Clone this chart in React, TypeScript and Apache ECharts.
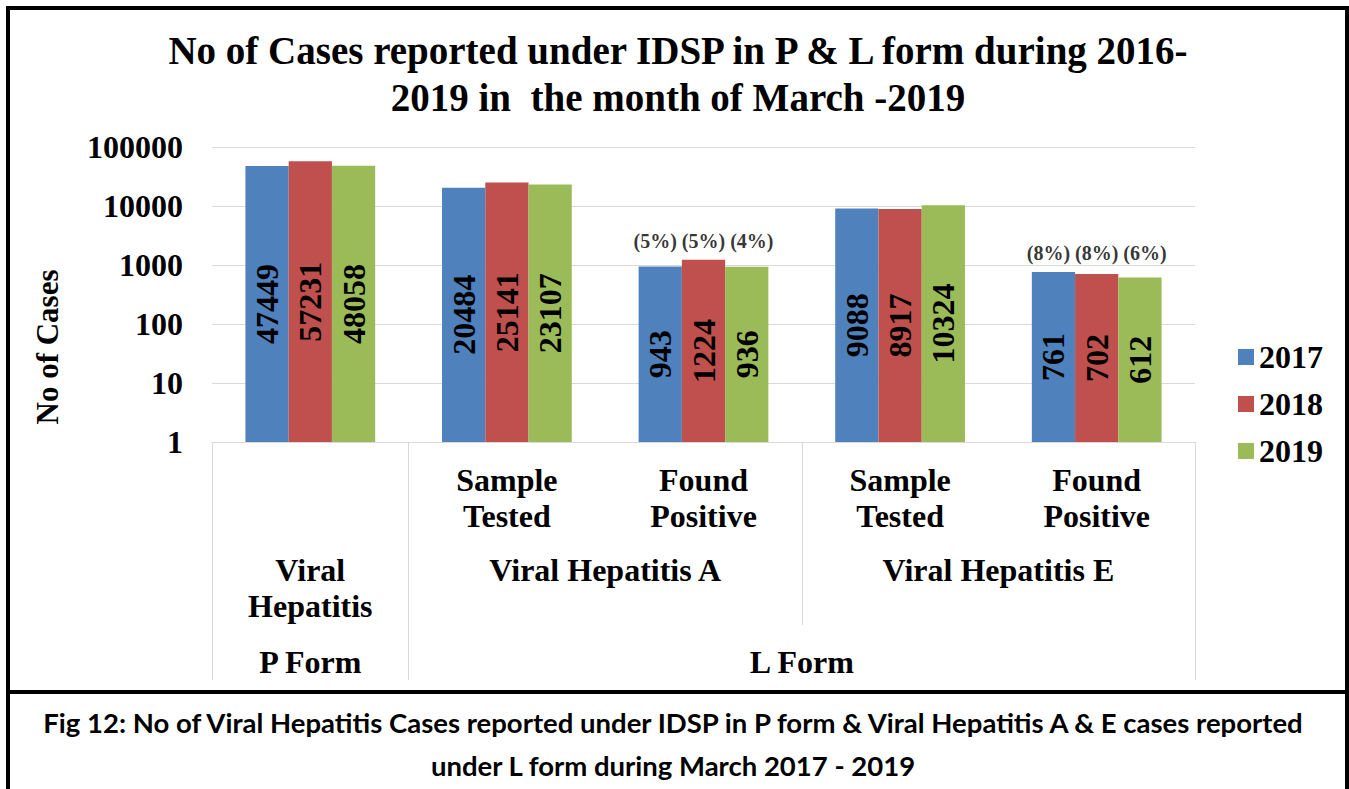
import React, { useEffect, useRef } from "react";
import * as echarts from "echarts";

const categories = [
  "Viral Hepatitis",
  "VHA Sample Tested",
  "VHA Found Positive",
  "VHE Sample Tested",
  "VHE Found Positive",
];
const subLabels = ["", "Sample\nTested", "Found\nPositive", "Sample\nTested", "Found\nPositive"];
const level2Labels = ["Viral\nHepatitis", "Viral Hepatitis A", "Viral Hepatitis E"];
const level2Spans = [1, 2, 2];
const level3Labels = ["P Form", "L Form"];
const level3Spans = [1, 4];

const seriesNames = ["2017", "2018", "2019"];
const values2017 = [47449, 20484, 943, 9088, 761];
const values2018 = [57231, 25141, 1224, 8917, 702];
const values2019 = [48058, 23107, 936, 10324, 612];
const pct2017 = ["", "", "5%", "", "8%"];
const pct2018 = ["", "", "5%", "", "8%"];
const pct2019 = ["", "", "4%", "", "6%"];

const yTicks = [1, 10, 100, 1000, 10000, 100000];

const colors = ["#4F81BD", "#C0504D", "#9BBB59"];
const SERIF = '"Liberation Serif", "Times New Roman", serif';

function spansToCenters(spans: number[]) {
  const out: number[] = [];
  let s = 0;
  spans.forEach((sp) => {
    out.push(s + sp / 2);
    s += sp;
  });
  return out;
}
function spansToBounds(spans: number[]) {
  const out: number[] = [0];
  let s = 0;
  spans.forEach((sp) => {
    s += sp;
    out.push(s);
  });
  return out;
}

export default function App() {
  const ref = useRef<HTMLDivElement>(null);
  useEffect(() => {
    if (!ref.current) return;
    const chart = echarts.init(ref.current, null, { renderer: "svg" });
    const n = categories.length;
    const l2Centers = spansToCenters(level2Spans);
    const l3Centers = spansToCenters(level3Spans);
    const l3Bounds = spansToBounds(level3Spans);
    const l2Bounds = spansToBounds(level2Spans).filter((b) => !l3Bounds.includes(b));

    const valueSets = [values2017, values2018, values2019];
    const pctSets = [pct2017, pct2018, pct2019];
    const pctData: any[] = [];
    for (let i = 0; i < n; i++) {
      if (pctSets[0][i]) {
        pctData.push({
          value: [categories[i], Math.max(values2017[i], values2018[i], values2019[i])],
          idx: i,
        });
      }
    }

    const labelFont = { fontFamily: SERIF, fontWeight: "bold" as const, fontSize: 32, color: "#000" };

    const valueAxisBase = (extra: any) => ({
      type: "value",
      min: 0,
      max: n,
      position: "bottom",
      axisLine: { show: false, onZero: false },
      splitLine: { show: false },
      ...extra,
    });

    const findIdx = (arr: number[], v: number) => {
      let best = 0;
      arr.forEach((c, i) => {
        if (Math.abs(c - v) < Math.abs(arr[best] - v)) best = i;
      });
      return best;
    };

    const option: any = {
      animation: false,
      backgroundColor: "#fff",
      grid: { left: 212, right: 154, top: 147, bottom: 347, containLabel: false },
      legend: {
        orient: "vertical",
        left: 1233,
        top: 336,
        itemWidth: 16,
        itemHeight: 16,
        itemGap: 15,
        icon: "rect",
        data: seriesNames,
        textStyle: { ...labelFont, lineHeight: 32 },
      },
      xAxis: [
        {
          type: "category",
          data: categories,
          position: "bottom",
          axisLine: { show: true, onZero: false, lineStyle: { color: "#D9D9D9", width: 1 } },
          axisTick: { show: false },
          axisLabel: {
            ...labelFont,
            lineHeight: 36,
            margin: 20,
            interval: 0,
            formatter: (_v: string, i: number) => subLabels[i],
          },
        },
        valueAxisBase({
          axisTick: { show: true, customValues: l3Bounds, length: 238, lineStyle: { color: "#D9D9D9", width: 1 } },
          axisLabel: { show: false },
        }),
        valueAxisBase({
          axisTick: { show: true, customValues: l2Bounds, length: 183, lineStyle: { color: "#D9D9D9", width: 1 } },
          axisLabel: { show: false },
        }),
        valueAxisBase({
          axisTick: { show: false },
          axisLabel: {
            ...labelFont,
            lineHeight: 36,
            margin: 110,
            customValues: l2Centers,
            formatter: (v: number) => level2Labels[findIdx(l2Centers, v)],
          },
        }),
        valueAxisBase({
          axisTick: { show: false },
          axisLabel: {
            ...labelFont,
            lineHeight: 36,
            margin: 202,
            customValues: l3Centers,
            formatter: (v: number) => level3Labels[findIdx(l3Centers, v)],
          },
        }),
      ],
      yAxis: {
        type: "log",
        logBase: 10,
        min: yTicks[0],
        max: yTicks[yTicks.length - 1],
        axisLine: { show: false },
        axisTick: { show: false },
        splitLine: { show: true, lineStyle: { color: "#D9D9D9", width: 1 } },
        axisLabel: {
          ...labelFont,
          margin: 29,
          formatter: (v: number) => String(Math.round(v)),
        },
      },
      series: [
        ...seriesNames.map((name, si) => ({
          name,
          type: "bar",
          xAxisIndex: 0,
          data: valueSets[si],
          barGap: "0%",
          barCategoryGap: "34%",
          itemStyle: { color: colors[si] },
          label: {
            show: true,
            position: "inside",
            rotate: 90,
            ...labelFont,
          },
        })),
        {
          type: "scatter",
          name: "pct",
          xAxisIndex: 0,
          data: pctData,
          symbolSize: 0,
          silent: true,
          label: {
            show: true,
            position: "top",
            distance: 9,
            fontFamily: SERIF,
            fontWeight: "bold",
            fontSize: 20,
            color: "#000",
            formatter: (p: any) => {
              const i = p.data.idx;
              return pctSets.map((s) => `(${s[i]})`).join(" ");
            },
          },
        },
      ],
      graphic: [
        {
          type: "text",
          x: 678,
          y: 27,
          style: {
            text: "No of Cases reported under IDSP in P & L form during 2016-\n2019 in  the month of March -2019",
            align: "center",
            verticalAlign: "top",
            fontFamily: SERIF,
            fontWeight: "bold",
            fontSize: 39,
            lineHeight: 47,
            fill: "#000",
          },
        },
        {
          type: "text",
          x: 47,
          y: 347,
          rotation: Math.PI / 2,
          style: {
            text: "No of Cases",
            align: "center",
            verticalAlign: "middle",
            fontFamily: SERIF,
            fontWeight: "bold",
            fontSize: 31,
            fill: "#000",
          },
        },
        {
          type: "text",
          x: 673,
          y: 701,
          style: {
            text:
              "Fig 12: No of Viral Hepatitis Cases reported under IDSP in P form & Viral Hepatitis A & E cases reported\nunder L form during March 2017 - 2019",
            align: "center",
            verticalAlign: "top",
            fontFamily: "Lato, Carlito, sans-serif",
            fontWeight: "bold",
            fontSize: 27.5,
            lineHeight: 43,
            fill: "#000",
          },
        },
        {
          type: "rect",
          shape: { x: 8, y: 8, width: 1339, height: 684 },
          style: { fill: "none", stroke: "#000", lineWidth: 4 },
          z: 100,
        },
        {
          type: "line",
          shape: { x1: 8, y1: 692, x2: 8, y2: 789 },
          style: { stroke: "#000", lineWidth: 4 },
          z: 100,
        },
        {
          type: "line",
          shape: { x1: 1347, y1: 692, x2: 1347, y2: 789 },
          style: { stroke: "#000", lineWidth: 4 },
          z: 100,
        },
      ],
    };
    chart.setOption(option);
    return () => chart.dispose();
  }, []);
  return (
    <div
      ref={ref}
      style={{ position: "absolute", left: 0, top: 0, width: 1349, height: 789, background: "#fff" }}
    />
  );
}
